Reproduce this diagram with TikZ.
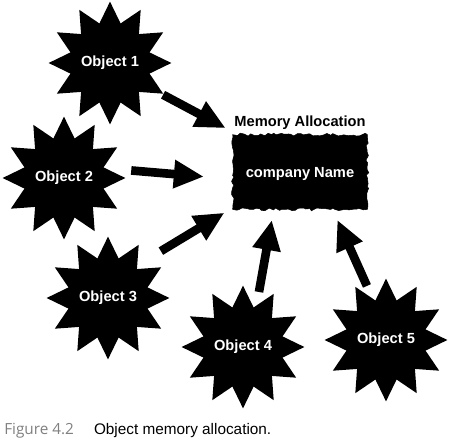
\documentclass[tikz,border=0pt]{standalone}
\usepackage{fontspec}
\setmainfont{Liberation Sans}
\newfontfamily\figfont{Open Sans}
\usetikzlibrary{shapes.geometric,arrows.meta,decorations.pathmorphing,positioning}
\definecolor{figgray}{RGB}{128,128,128}

\begin{document}
\begin{tikzpicture}[x=0.75pt,y=-0.75pt,
    object node/.style={star,star points=12,star point ratio=1.5,fill=black,minimum size=85pt,inner sep=0pt,text=white,font=\bfseries\fontsize{11}{13}\selectfont},
    memory node/.style={rectangle,fill=black,draw=black,minimum width=101pt,minimum height=56pt,text=white,text depth=0pt,font=\bfseries\fontsize{11}{13}\selectfont,decorate,decoration={random steps,segment length=2.5pt,amplitude=1.1pt}},
    big arrow/.style={line width=6.5pt,-{Triangle[length=22.5pt,width=20pt]}}]
                \useasboundingbox (0,0) rectangle (449,441);
                \node[object node] at (110, 63) (o1) {Object 1};
                \node[object node] at (64, 178) (o2) {Object 2};
                \node[object node] at (108, 298) (o3) {Object 3};
                \node[object node] at (243, 347) (o4) {Object 4};
                \node[object node] at (386, 340) (o5) {Object 5};
                \node[memory node] at (300, 172) (mem) {company Name};
                \node[above=3.5pt of mem,inner sep=0pt,font=\bfseries\fontsize{11}{13}\selectfont] (title) {Memory Allocation};

                \path[every edge/.style={draw,big arrow}]
                    (o1.329) edge[shorten <=1.5pt, shorten >=10pt] (mem.149)
                    (o2.13) edge[shorten <=19pt, shorten >=21.5pt] (mem.186)
                    (o3.48) edge[shorten <=20.5pt, shorten >=7pt] (mem.208)
                    (o4.72) edge[shorten <=10pt, shorten >=8pt] (mem.235)
                    (o5.108) edge[shorten <=10pt, shorten >=8.5pt] (mem.311)
                    ;

                \node[anchor=base west,inner sep=0pt,font=\fontsize{11.5}{13}\selectfont] at (4, 434) (caption) {{\figfont\color{figgray}Figure 4.2}\hspace{15pt}Object memory allocation.};
            \end{tikzpicture}
\end{document}
